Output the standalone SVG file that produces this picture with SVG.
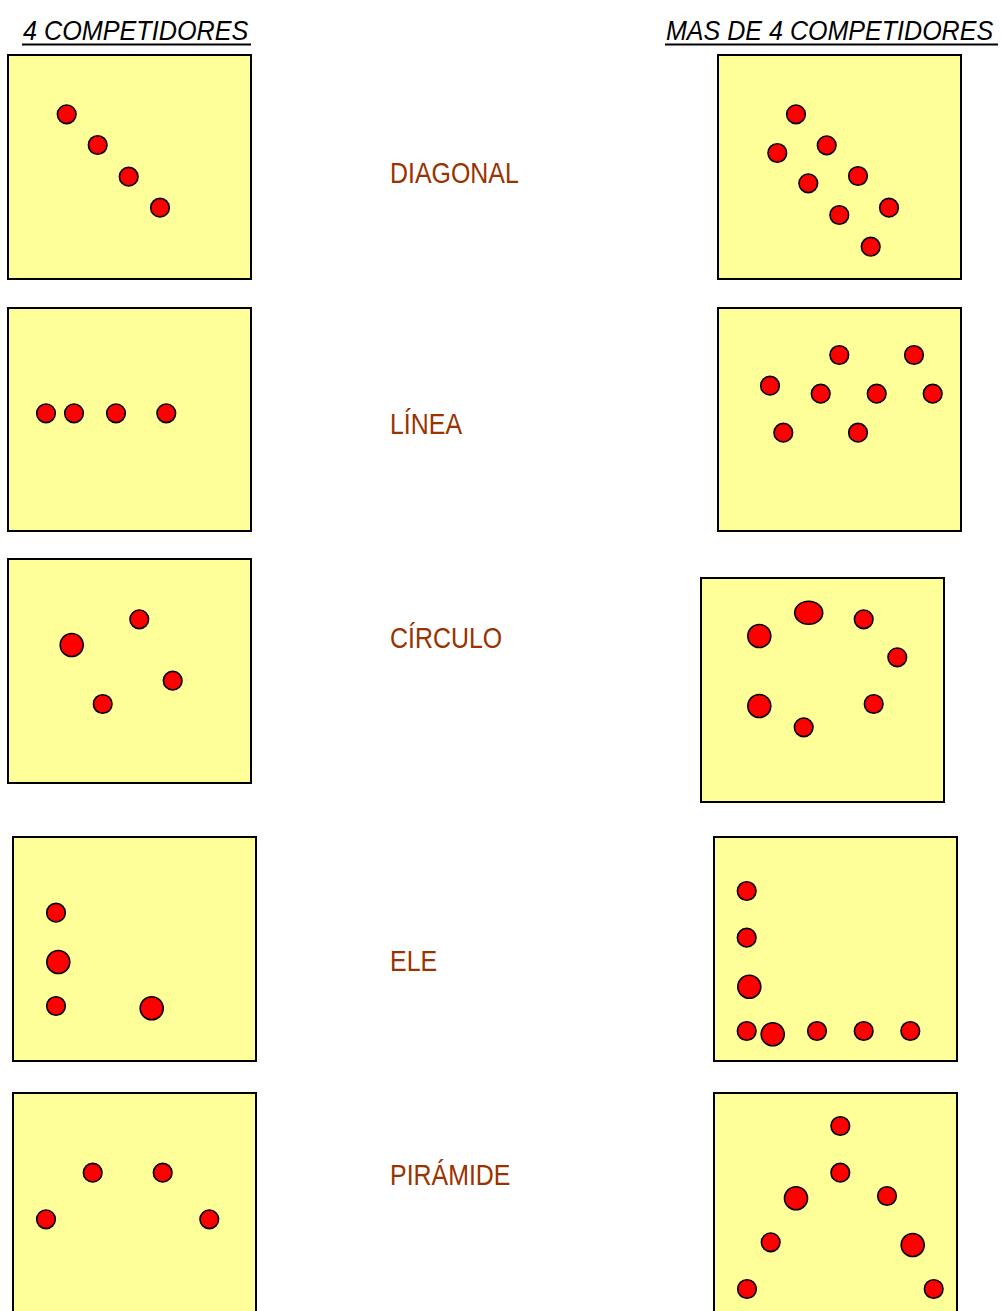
<svg xmlns="http://www.w3.org/2000/svg" width="1001" height="1311" viewBox="0 0 1001 1311">
<style>
.box{fill:#ffff99;stroke:#000;stroke-width:2}
.d{fill:#ff0000;stroke:#000;stroke-width:1.6}
.hd{font-family:"Liberation Sans",Arial,sans-serif;font-style:italic;font-size:28px;fill:#000}
.ul{stroke:#000;stroke-width:2}
.lb{font-family:"Liberation Sans",Arial,sans-serif;font-size:29px;fill:#993300}
</style>
<rect width="1001" height="1311" fill="#fff"/>
<g id="headers">
<text class="hd" transform="translate(23,40) scale(0.9,1)" x="0" y="0">4 COMPETIDORES</text>
<line class="ul" x1="22" y1="44.5" x2="251" y2="44.5"/>
<text class="hd" transform="translate(666,40) scale(0.895,1)" x="0" y="0">MAS DE 4 COMPETIDORES</text>
<line class="ul" x1="665" y1="44.5" x2="998" y2="44.5"/>
</g>
<g id="labels">
<text class="lb" transform="translate(390,183) scale(0.86,1)" x="0" y="0">DIAGONAL</text>
<text class="lb" transform="translate(390,434) scale(0.86,1)" x="0" y="0">LÍNEA</text>
<text class="lb" transform="translate(390,648) scale(0.86,1)" x="0" y="0">CÍRCULO</text>
<text class="lb" transform="translate(390,971) scale(0.86,1)" x="0" y="0">ELE</text>
<text class="lb" transform="translate(390,1185) scale(0.86,1)" x="0" y="0">PIRÁMIDE</text>
</g>
<g id="diagonal-4">
<rect class="box" x="8" y="55" width="243" height="224"/>
<circle class="d" cx="66.7" cy="114.3" r="9.3"/>
<circle class="d" cx="97.7" cy="145" r="9.3"/>
<circle class="d" cx="128.7" cy="176.7" r="9.3"/>
<circle class="d" cx="160" cy="207.7" r="9.3"/>
</g>
<g id="diagonal-mas">
<rect class="box" x="718" y="55" width="243" height="224"/>
<circle class="d" cx="796" cy="114.3" r="9.3"/>
<circle class="d" cx="826.7" cy="145.3" r="9.3"/>
<circle class="d" cx="777.3" cy="153" r="9.3"/>
<circle class="d" cx="858" cy="176" r="9.3"/>
<circle class="d" cx="808.3" cy="183.3" r="9.3"/>
<circle class="d" cx="889" cy="207.7" r="9.3"/>
<circle class="d" cx="839.3" cy="215" r="9.3"/>
<circle class="d" cx="870.7" cy="246.7" r="9.3"/>
</g>
<g id="linea-4">
<rect class="box" x="8" y="308" width="243" height="223"/>
<circle class="d" cx="46" cy="413.3" r="9.3"/>
<circle class="d" cx="74" cy="413.3" r="9.3"/>
<circle class="d" cx="116" cy="413.3" r="9.3"/>
<circle class="d" cx="166.3" cy="413.3" r="9.3"/>
</g>
<g id="linea-mas">
<rect class="box" x="718" y="308" width="243" height="223"/>
<circle class="d" cx="839.3" cy="355" r="9.3"/>
<circle class="d" cx="914" cy="355" r="9.3"/>
<circle class="d" cx="770" cy="385.7" r="9.3"/>
<circle class="d" cx="820.7" cy="393.7" r="9.3"/>
<circle class="d" cx="876.7" cy="393.7" r="9.3"/>
<circle class="d" cx="932.7" cy="393.7" r="9.3"/>
<circle class="d" cx="783.3" cy="432.7" r="9.3"/>
<circle class="d" cx="858" cy="432.7" r="9.3"/>
</g>
<g id="circulo-4">
<rect class="box" x="8" y="559" width="243" height="224"/>
<circle class="d" cx="71.7" cy="645" r="11.5"/>
<circle class="d" cx="139.3" cy="619.3" r="9.3"/>
<circle class="d" cx="172.7" cy="680.7" r="9.3"/>
<circle class="d" cx="102.7" cy="704" r="9.3"/>
</g>
<g id="circulo-mas">
<rect class="box" x="701" y="578" width="243" height="224"/>
<ellipse class="d" cx="808.7" cy="612.7" rx="14" ry="11.5"/>
<circle class="d" cx="759.3" cy="636" r="11.5"/>
<circle class="d" cx="863.7" cy="619.3" r="9.3"/>
<circle class="d" cx="897.3" cy="657.3" r="9.3"/>
<circle class="d" cx="759.3" cy="706" r="11.5"/>
<circle class="d" cx="873.7" cy="704" r="9.3"/>
<circle class="d" cx="803.7" cy="727.3" r="9.3"/>
</g>
<g id="ele-4">
<rect class="box" x="13" y="837" width="243" height="224"/>
<circle class="d" cx="56" cy="912.7" r="9.3"/>
<circle class="d" cx="58.3" cy="962" r="11.5"/>
<circle class="d" cx="56" cy="1006" r="9.3"/>
<circle class="d" cx="151.7" cy="1008.3" r="11.5"/>
</g>
<g id="ele-mas">
<rect class="box" x="714" y="837" width="243" height="224"/>
<circle class="d" cx="746.7" cy="891" r="9.3"/>
<circle class="d" cx="746.7" cy="937.7" r="9.3"/>
<circle class="d" cx="749.3" cy="986.7" r="11.5"/>
<circle class="d" cx="746.7" cy="1031" r="9.3"/>
<circle class="d" cx="772.7" cy="1034.3" r="11.5"/>
<circle class="d" cx="817" cy="1031" r="9.3"/>
<circle class="d" cx="863.7" cy="1031" r="9.3"/>
<circle class="d" cx="910.3" cy="1031" r="9.3"/>
</g>
<g id="piramide-4">
<rect class="box" x="13" y="1093" width="243" height="224"/>
<circle class="d" cx="92.7" cy="1172.7" r="9.3"/>
<circle class="d" cx="162.7" cy="1172.7" r="9.3"/>
<circle class="d" cx="46" cy="1219.3" r="9.3"/>
<circle class="d" cx="209.3" cy="1219.3" r="9.3"/>
</g>
<g id="piramide-mas">
<rect class="box" x="714" y="1093" width="243" height="224"/>
<circle class="d" cx="840.3" cy="1126" r="9.3"/>
<circle class="d" cx="840.3" cy="1172.7" r="9.3"/>
<circle class="d" cx="796" cy="1198.3" r="11.5"/>
<circle class="d" cx="887" cy="1196" r="9.3"/>
<circle class="d" cx="770.7" cy="1242.3" r="9.3"/>
<circle class="d" cx="912.7" cy="1245" r="11.5"/>
<circle class="d" cx="747" cy="1289" r="9.3"/>
<circle class="d" cx="933.7" cy="1289" r="9.3"/>
</g>
</svg>
